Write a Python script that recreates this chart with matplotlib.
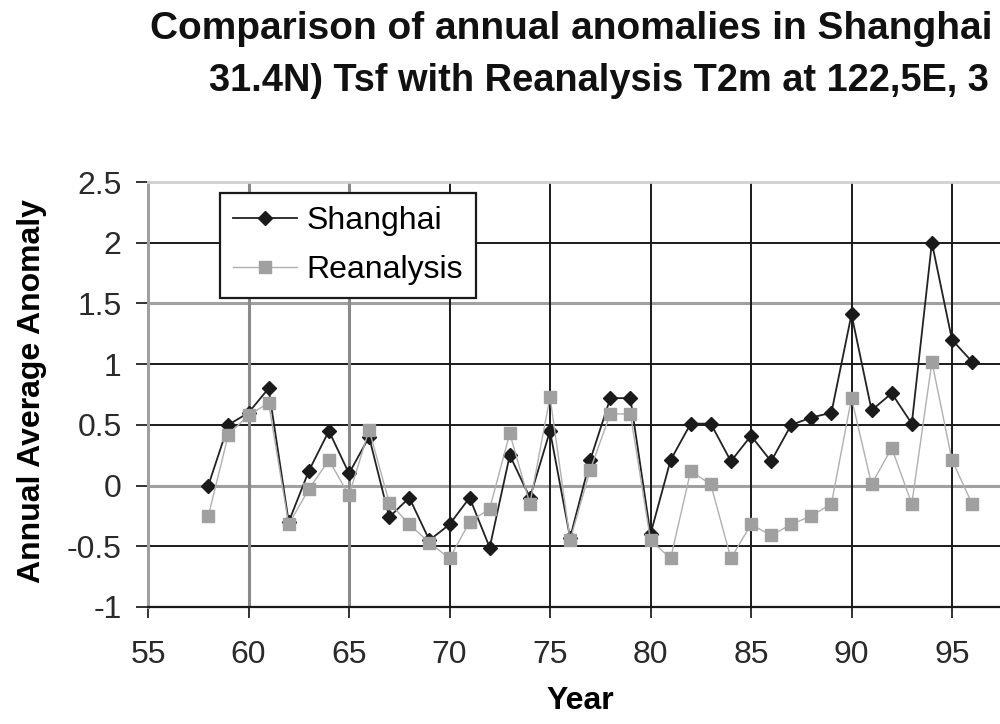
import matplotlib
matplotlib.use("Agg")
import matplotlib.pyplot as plt

# ---- data ----
years = list(range(58, 97))
shanghai = [0.0, 0.5, 0.6, 0.8, -0.3, 0.12, 0.45, 0.1, 0.4, -0.26,
            -0.1, -0.45, -0.32, -0.1, -0.51, 0.25, -0.1, 0.45, -0.43, 0.21,
            0.72, 0.72, -0.4, 0.21, 0.51, 0.51, 0.2, 0.41, 0.2, 0.5,
            0.56, 0.6, 1.41, 0.62, 0.76, 0.51, 2.0, 1.2, 1.02]
reanalysis = [-0.25, 0.42, 0.58, 0.68, -0.32, -0.03, 0.21, -0.08, 0.46, -0.14,
              -0.32, -0.47, -0.6, -0.3, -0.19, 0.43, -0.15, 0.73, -0.45, 0.13,
              0.59, 0.59, -0.45, -0.6, 0.12, 0.01, -0.6, -0.32, -0.41, -0.32,
              -0.25, -0.15, 0.72, 0.01, 0.31, -0.15, 1.02, 0.21, -0.15]
xticks = [55, 60, 65, 70, 75, 80, 85, 90, 95]
xticklabels = ["55", "60", "65", "70", "75", "80", "85", "90", "95"]
yticks = [2.5, 2, 1.5, 1, 0.5, 0, -0.5, -1]
yticklabels = ["2.5", "2", "1.5", "1", "0.5", "0", "-0.5", "-1"]
title_line1 = "Comparison of annual anomalies in Shanghai"
title_line2 = "31.4N) Tsf with Reanalysis T2m at 122,5E, 3"
series_names = ["Shanghai", "Reanalysis"]

plt.rcParams['font.family'] = ['Liberation Sans', 'DejaVu Sans']
plt.rcParams['axes.unicode_minus'] = False

fig = plt.figure(figsize=(10, 7.24), dpi=100)
ax = fig.add_axes([0.148, 117/724, 0.9045, 425/724])
ax.set_xlim(55, 100)
ax.set_ylim(-1, 2.5)

# grid lines (some rendered grey, some black in the reference)
grey_h = {0, 1.5}
for y in yticks:
    if y == 2.5:
        continue
    if y in grey_h:
        ax.axhline(y, color="#a0a0a0", lw=2.2, zorder=1)
    else:
        ax.axhline(y, color="#1a1a1a", lw=1.4, zorder=1)
grey_v = {60, 65}
for x in xticks:
    if x == 55:
        continue
    if x in grey_v:
        ax.axvline(x, color="#8a8a8a", lw=2.2, zorder=1)
    else:
        ax.axvline(x, color="#1a1a1a", lw=1.4, zorder=1)

ax.plot(years, shanghai, color="#222222", lw=1.3, marker="D", markersize=7,
        markerfacecolor="#1a1a1a", markeredgecolor="#1a1a1a", label=series_names[0], zorder=3)
ax.plot(years, reanalysis, color="#b0b0b0", lw=1.0, marker="s", markersize=8.5,
        markerfacecolor="#a0a0a0", markeredgecolor="#a0a0a0", label=series_names[1], zorder=4)

ax.set_xticks(xticks)
ax.set_xticklabels(xticklabels)
ax.set_yticks(yticks)
ax.set_yticklabels(yticklabels)
ax.tick_params(axis="x", direction="out", length=8, width=1.4, color="#333333",
               labelsize=23, labelcolor="#2a2a2a", pad=16)
ax.tick_params(axis="y", direction="out", length=9, width=1.4, color="#333333",
               labelsize=23, labelcolor="#2a2a2a", pad=10)

ax.spines["top"].set_color("#d0d0d0")
ax.spines["top"].set_linewidth(2)
ax.spines["left"].set_color("#a0a0a0")
ax.spines["left"].set_linewidth(2.2)
ax.spines["bottom"].set_color("#1a1a1a")
ax.spines["bottom"].set_linewidth(1.6)
ax.spines["right"].set_visible(False)

ax.set_xlabel("Year", fontsize=23, fontweight="bold")
ax.xaxis.set_label_coords(0.4776, -0.187)
ax.set_ylabel("Annual Average Anomaly", fontsize=23, fontweight="bold")
ax.yaxis.set_label_coords(-0.112, 0.507)

leg = ax.legend(loc="upper left", bbox_to_anchor=(0.0796, 0.974), fontsize=23,
                frameon=True, fancybox=False, edgecolor="#1a1a1a", framealpha=1,
                handlelength=2.0, handletextpad=0.3, labelspacing=0.6,
                borderpad=0.4, borderaxespad=0)
leg.get_frame().set_linewidth(1.6)

fig.text(0.150, 1 - 39/724, title_line1, fontsize=28, fontweight="bold",
         ha="left", va="baseline", color="#111111")
fig.text(0.209, 1 - 91/724, title_line2, fontsize=27.4, fontweight="bold",
         ha="left", va="baseline", color="#111111")

fig.savefig("out.png", dpi=100)
